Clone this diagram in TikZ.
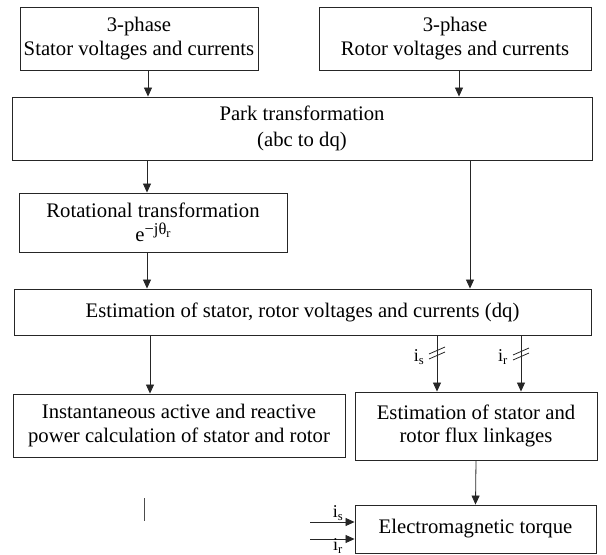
\documentclass[tikz,border=0pt]{standalone}
\usepackage{fontspec}
\setmainfont{Liberation Serif}
\usetikzlibrary{arrows.meta,calc}

\begin{document}
\begin{tikzpicture}[x=1pt,y=-1pt]
  \tikzset{blk/.style={draw=black!85, line width=0.9pt, align=center, inner sep=0pt,
                       font=\fontsize{20.7}{23.5}\selectfont},
           arr/.style={-{Triangle[length=9pt,width=8pt]}, line width=0.8pt, black!85},
           lbl/.style={inner sep=0pt, font=\fontsize{18}{18}\selectfont},
           tick/.style={line width=0.8pt, black!85}}
  \useasboundingbox (0,0) rectangle (606,555);

  % Input blocks
  \node[blk, minimum width=238pt, minimum height=63pt] (stator) at (139,38.5) {3-phase\\Stator voltages and currents};
  \node[blk, minimum width=272pt, minimum height=63pt] (rotor) at (455,38.5) {3-phase\\Rotor voltages and currents};

  % Transformations
  \node[blk, minimum width=580pt, minimum height=63pt] (park) at (302,128.5) {Park transformation\\[3pt](abc to dq)};
  \node[blk, minimum width=268pt, minimum height=59pt] (rot) at (153,222.5)
    {Rotational transformation\\e\raisebox{7pt}{\fontsize{16.5}{16.5}\selectfont −jθ\raisebox{-3.5pt}{\fontsize{12.5}{12.5}\selectfont r}}};
  \node[blk, minimum width=577pt, minimum height=46pt] (est) at (302.5,312) {Estimation of stator, rotor voltages and currents (dq)};

  % Outputs
  \node[blk, minimum width=332pt, minimum height=63pt] (inst) at (179,425.5) {Instantaneous active and reactive\\power calculation of stator and rotor};
  \node[blk, minimum width=242pt, minimum height=68pt] (flux) at (476,426) {Estimation of stator and\\rotor flux linkages};
  \node[blk, minimum width=241pt, minimum height=48pt] (torque) at (475.5,529) {Electromagnetic torque};

  % Helper points
  \coordinate (cS) at (148,0);
  \coordinate (cR) at (459,0);
  \coordinate (cL) at (147,0);
  \coordinate (cP) at (470,0);
  \coordinate (cI) at (150,0);
  \coordinate (cA) at (437,0);
  \coordinate (cB) at (521,0);
  \coordinate (inS) at (310,522);
  \coordinate (inR) at (310,539);

  % Connectors
  \draw[arr] (stator.south -| cS) -- (park.north -| cS);
  \draw[arr] (rotor.south -| cR) -- (park.north -| cR);
  \draw[arr] (park.south -| cL) -- (rot.north -| cL);
  \draw[arr] (rot.south -| cL) -- (est.north -| cL);
  \draw[arr] (park.south -| cP) -- (est.north -| cP);
  \draw[arr] (est.south -| cI) -- (inst.north -| cI);
  \draw[arr] (est.south -| cA) -- (flux.north -| cA);
  \draw[arr] (est.south -| cB) -- (flux.north -| cB);
  \draw[arr] (flux.south) -- (torque.north);
  \draw[arr] (inS) -- (inS -| torque.west);
  \draw[arr] (inR) -- (inR -| torque.west);

  % Double slash marks and current labels
  \foreach \dy in {351,356} {
    \draw[tick] ($(cA)+(-8,\dy+3)$) -- ++(16,-7);
    \draw[tick] ($(cB)+(-8,\dy+4)$) -- ++(16,-7);
  }
  \node[lbl] (isa) at (419,357) {i\textsubscript{s}};
  \node[lbl] (ira) at (503,357) {i\textsubscript{r}};
  \node[lbl] (isb) at (338,513) {i\textsubscript{s}};
  \node[lbl] (irb) at (338,546) {i\textsubscript{r}};

  % stray mark
  \draw[line width=1pt, black!70] (144,498) -- (144,521);
\end{tikzpicture}
\end{document}
